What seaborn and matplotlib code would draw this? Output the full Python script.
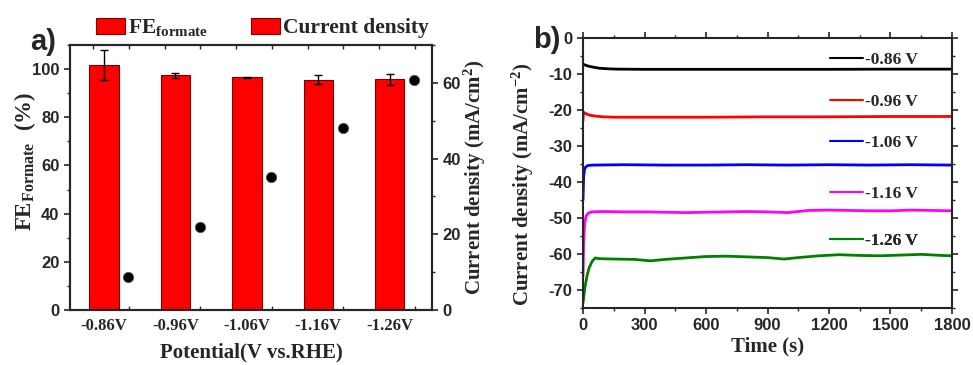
import numpy as np
import pandas as pd
import matplotlib
matplotlib.use("Agg")
import matplotlib.pyplot as plt
import seaborn as sns
from matplotlib.patches import Patch
from matplotlib.lines import Line2D
from matplotlib.ticker import MultipleLocator, FixedLocator

# ---------------- data ----------------
potentials = ["-0.86V", "-0.96V", "-1.06V", "-1.16V", "-1.26V"]
fe_formate = [101.7, 97.4, 96.6, 95.6, 95.7]
fe_err = [6.4, 0.9, 0.3, 1.9, 2.1]
current_density = [8.6, 21.9, 35.2, 48.1, 60.7]

t_086 = [0, 10, 25, 50, 80, 120, 170, 300, 600, 900, 1200, 1500, 1800]
j_086 = [-7.3, -7.5, -7.8, -8.1, -8.4, -8.55, -8.65, -8.7, -8.7, -8.7, -8.7, -8.65, -8.65]

t_096 = [0, 2, 10, 30, 60, 100, 150, 300, 600, 900, 1200, 1500, 1800]
j_096 = [-23.0, -20.6, -20.9, -21.4, -21.7, -21.9, -22.0, -22.0, -22.0, -21.9, -21.9, -21.8, -21.8]

t_106 = [0, 3, 8, 15, 25, 50, 200, 400, 600, 800, 1000, 1200, 1400, 1600, 1800]
j_106 = [-45.0, -38.5, -36.3, -35.7, -35.4, -35.3, -35.2, -35.3, -35.3, -35.2, -35.3, -35.2, -35.3, -35.2, -35.3]

t_116 = [0, 3, 8, 15, 25, 40, 100, 200, 300, 400, 500, 600, 700, 800, 900, 1000,
         1100, 1200, 1300, 1400, 1500, 1600, 1700, 1800]
j_116 = [-66.3, -57.0, -51.5, -49.5, -48.7, -48.3, -48.2, -48.3, -48.3, -48.4, -48.5, -48.4,
         -48.3, -48.2, -48.3, -48.5, -47.9, -47.8, -47.9, -48.0, -48.0, -47.8, -47.9, -48.0]

t_126 = [0, 10, 20, 30, 45, 60, 80, 150, 250, 330, 400, 500, 600, 700, 800, 900, 980,
         1050, 1150, 1250, 1350, 1450, 1550, 1650, 1750, 1800]
j_126 = [-73.6, -69.0, -66.0, -63.8, -62.0, -61.1, -61.3, -61.4, -61.5, -61.9, -61.5, -61.1,
         -60.7, -60.6, -60.8, -61.0, -61.4, -61.0, -60.5, -60.2, -60.4, -60.5, -60.3, -60.1,
         -60.4, -60.5]

series_labels = ["-0.86 V", "-0.96 V", "-1.06 V", "-1.16 V", "-1.26 V"]
series_colors = ["#000000", "#FF0000", "#0000FF", "#FF00FF", "#008000"]

# ---------------- style ----------------
sns.set_style("ticks")
plt.rcParams["font.family"] = ["Liberation Sans", "DejaVu Sans"]
plt.rcParams["font.weight"] = "bold"
plt.rcParams["axes.unicode_minus"] = False
plt.rcParams["mathtext.fontset"] = "custom"
plt.rcParams["mathtext.rm"] = "Liberation Serif:bold"
plt.rcParams["mathtext.bf"] = "Liberation Serif:bold"
plt.rcParams["mathtext.it"] = "Liberation Serif:bold"
plt.rcParams["axes.linewidth"] = 1.5

serif = {"family": "Liberation Serif", "weight": "bold"}
sans = {"family": "Liberation Sans", "weight": "bold"}

fig = plt.figure(figsize=(9.73, 3.65), dpi=100)
ax1 = fig.add_axes([70 / 973, 1 - 310 / 365, 362 / 973, 265 / 365])
ax3 = fig.add_axes([583 / 973, 1 - 308 / 365, 369 / 973, 270 / 365])

# ---------------- panel a ----------------
df_bar = pd.DataFrame({"potential": potentials, "fe": fe_formate})
sns.barplot(data=df_bar, x="potential", y="fe", color="#FF0000", saturation=1,
            width=0.41, edgecolor="#7a0000", linewidth=0.8, errorbar=None, ax=ax1)
xpos = np.arange(len(potentials))
ax1.errorbar(xpos, fe_formate, yerr=fe_err, fmt="none", ecolor="black",
             elinewidth=1.0, capsize=3, capthick=1.0, zorder=5)
ax1.set_xlim(-0.475, 4.59)
ax1.set_ylim(0, 110)
ax1.yaxis.set_major_locator(MultipleLocator(20))
ax1.yaxis.set_minor_locator(MultipleLocator(10))
ax1.xaxis.set_minor_locator(FixedLocator(np.arange(-0.15, 4.6, 0.5)))
ax1.tick_params(axis="x", which="major", length=0, pad=6)
ax1.tick_params(axis="x", which="minor", length=3, width=1, top=True, direction="in")
ax1.tick_params(axis="y", which="major", length=4, width=1.2, direction="out")
ax1.tick_params(axis="y", which="minor", length=2.5, width=1, direction="out")
for lab in ax1.get_xticklabels():
    lab.set_fontproperties({"family": "Liberation Serif", "weight": "bold", "size": 12})
for lab in ax1.get_yticklabels():
    lab.set_fontproperties({"family": "Liberation Sans", "weight": "bold", "size": 12})
ax1.set_xlabel("Potential(V vs.RHE)", fontdict={**serif, "size": 15}, labelpad=6)
ax1.set_ylabel(r"$\mathbf{FE_{Formate}}$  (%)", fontdict={**serif, "size": 16.5})
ax1.yaxis.set_label_coords(-0.088, 0.56)
for s in ax1.spines.values():
    s.set_visible(True)
    s.set_linewidth(1.5)

ax2 = ax1.twinx()
sns.scatterplot(x=xpos + 0.34, y=current_density, ax=ax2, color="black", s=55,
                edgecolor="#555555", linewidth=0.6, zorder=6)
ax2.set_ylim(0, 70)
ax2.set_xlim(-0.475, 4.59)
ax2.yaxis.set_major_locator(MultipleLocator(20))
ax2.yaxis.set_minor_locator(MultipleLocator(10))
ax2.tick_params(axis="y", which="major", length=4, width=1.2, direction="out")
ax2.tick_params(axis="y", which="minor", length=2.5, width=1, direction="out")
for lab in ax2.get_yticklabels():
    lab.set_fontproperties({"family": "Liberation Sans", "weight": "bold", "size": 12})
ax2.set_ylabel(r"Current density (mA/cm$^{2}$)", fontdict={**serif, "size": 15}, labelpad=1)

handles = [Patch(facecolor="#FF0000", edgecolor="#7a0000", linewidth=0.8),
           Patch(facecolor="#FF0000", edgecolor="#7a0000", linewidth=0.8)]
labels = [r"$\mathbf{FE_{formate}}$", "Current density"]
ax1.legend(handles, labels, ncol=2, loc="center left", bbox_to_anchor=(0.047, 1.065),
           frameon=False, prop={**serif, "size": 15.5}, handlelength=1.35, handleheight=0.8,
           handletextpad=0.15, columnspacing=2.0, borderaxespad=0)

fig.text(30 / 973, 1 - 42 / 365, "a)", fontdict={**sans, "size": 21}, va="center", ha="left")

# ---------------- panel b ----------------
curves = [(t_086, j_086), (t_096, j_096), (t_106, j_106), (t_116, j_116), (t_126, j_126)]
for (t, j), c in zip(curves, series_colors):
    sns.lineplot(x=t, y=j, ax=ax3, color=c, linewidth=2.0, estimator=None, sort=False)

ax3.set_xlim(0, 1800)
ax3.set_ylim(-75, 0)
ax3.xaxis.set_major_locator(MultipleLocator(300))
ax3.xaxis.set_minor_locator(MultipleLocator(150))
ax3.yaxis.set_major_locator(MultipleLocator(10))
ax3.yaxis.set_minor_locator(MultipleLocator(5))
ax3.tick_params(which="major", length=4, width=1.2, direction="out")
ax3.tick_params(which="minor", length=2.5, width=1, direction="out")
ax3.tick_params(which="both", top=True, right=True)
for lab in ax3.get_xticklabels() + ax3.get_yticklabels():
    lab.set_fontproperties({"family": "Liberation Sans", "weight": "bold", "size": 12})
ax3.set_xlabel("Time (s)", fontdict={**serif, "size": 15}, labelpad=2)
ax3.set_ylabel(r"Current density (mA/cm$^{-2}$)", fontdict={**serif, "size": 15})
ax3.yaxis.set_label_coords(-0.128, 0.46)
for s in ax3.spines.values():
    s.set_visible(True)
    s.set_linewidth(1.5)

leg_y = [0.919, 0.763, 0.611, 0.422, 0.248]
for lab, c, yy in zip(series_labels, series_colors, leg_y):
    lg = ax3.legend([Line2D([], [], color=c, linewidth=1.5)], [lab], loc="center left",
                    bbox_to_anchor=(0.655, yy), frameon=False, prop={**serif, "size": 12.5},
                    handlelength=1.9, handletextpad=0.1, borderaxespad=0, borderpad=0.3)
    ax3.add_artist(lg)

fig.text(533 / 973, 1 - 40 / 365, "b)", fontdict={**sans, "size": 21}, va="center", ha="left")

fig.savefig("out.png", dpi=100)
